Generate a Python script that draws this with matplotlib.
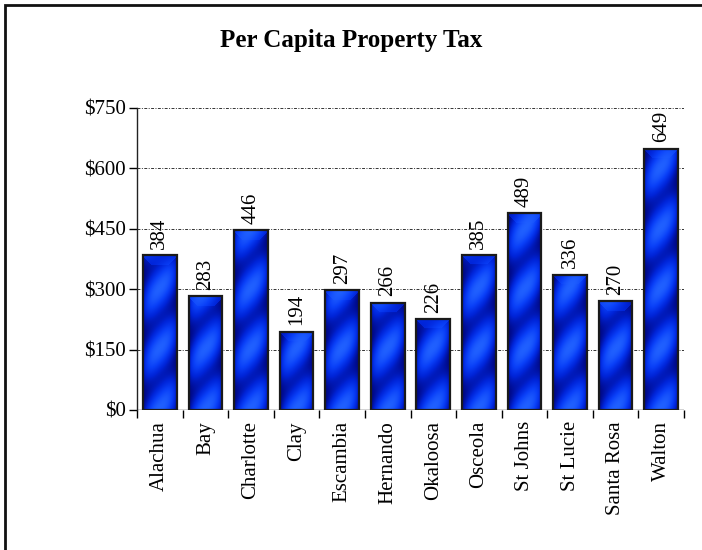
import numpy as np
import matplotlib
matplotlib.use("Agg")
import matplotlib.pyplot as plt
from matplotlib.patches import Rectangle
from matplotlib.colors import LinearSegmentedColormap
from matplotlib.ticker import FuncFormatter, FixedLocator

counties = ["Alachua", "Bay", "Charlotte", "Clay", "Escambia", "Hernando",
            "Okaloosa", "Osceola", "St Johns", "St Lucie", "Santa Rosa", "Walton"]
tax = [384, 283, 446, 194, 297, 266, 226, 385, 489, 336, 270, 649]
yticks = [0, 150, 300, 450, 600, 750]

plt.rcParams["font.family"] = ["Liberation Serif", "DejaVu Serif"]

W, H, DPI = 702, 550, 100
fig = plt.figure(figsize=(W / DPI, H / DPI), dpi=DPI)
fig.patch.set_facecolor("white")

# frame around the chart area (runs off the right and bottom edges)
fig.add_artist(Rectangle((5 / W, -0.05), 1.2, 1 - 5 / H + 0.05,
                         transform=fig.transFigure, fill=False,
                         edgecolor="#111111", linewidth=2))

left, right, bottom, top = 137 / W, 684 / W, 1 - 410 / H, 1 - 108 / H
ax = fig.add_axes([left, bottom, right - left, top - bottom])

n = len(counties)

for s in ["top", "right", "bottom"]:
    ax.spines[s].set_visible(False)
ax.spines["left"].set_linewidth(1.0)
ax.spines["left"].set_color("#222222")
ax.axhline(0, color="#222222", linewidth=1.0, zorder=4)

ax.yaxis.set_major_locator(FixedLocator(yticks))
ax.yaxis.set_major_formatter(FuncFormatter(lambda v, p: f"${int(v)}"))
ax.tick_params(axis="y", direction="out", length=6, width=1, labelsize=15, pad=2)
for y in yticks[1:]:
    ax.axhline(y, color="#333333", linewidth=0.7, linestyle=(0, (3, 1.5, 1, 1.5)), zorder=1)

ax.set_xticks(np.arange(n))
ax.set_xticklabels(counties, rotation=90, fontsize=15, va="top")
ax.tick_params(axis="x", length=0, pad=8)
ax.set_xticks(np.arange(n + 1) - 0.5, minor=True)
ax.tick_params(axis="x", which="minor", direction="out", length=6, width=1)

cmap = LinearSegmentedColormap.from_list(
    "bluebar", ["#00044a", "#000c90", "#0024d8", "#0a40f8", "#2060ff"])

ax_w_px = (right - left) * W
ax_h_px = (top - bottom) * H
bw = 0.74
for i, v in enumerate(tax):
    wpx = int(round(bw * ax_w_px / n))
    hpx = max(int(round(v / 750 * ax_h_px)), 2)
    xx, yy = np.meshgrid(np.arange(wpx), np.arange(hpx))
    # diagonal sheen running from lower left to upper right
    stripe = 0.5 + 0.5 * np.sin(2 * np.pi * (xx - yy) / 60.0)
    fx = np.abs((xx + 0.5) / wpx - 0.5) * 2
    side = 1 - 0.6 * fx ** 2.5
    val = (0.4 + 0.6 * stripe) * side
    # lighter bevel along the top edge
    d_top = hpx - 1 - yy
    bevel = (d_top < 10) & (d_top < xx + 2) & (d_top < wpx - xx + 1)
    val = np.where(bevel, np.clip(0.55 + 0.45 * stripe, 0, 1) * (1 - 0.3 * fx ** 2), val)
    ax.imshow(val, cmap=cmap, vmin=0, vmax=1, origin="lower",
              extent=(i - bw / 2, i + bw / 2, 0, v), aspect="auto",
              interpolation="bilinear", zorder=2)
    ax.add_patch(Rectangle((i - bw / 2, 0), bw, v, fill=False,
                           edgecolor="#1a1a1a", linewidth=1.6, zorder=3))
    ax.text(i, v + 16, f"{v}", rotation=90, ha="center", va="bottom",
            fontsize=15, zorder=5)

ax.set_xlim(-0.5, n - 0.5)
ax.set_ylim(0, 750)

fig.text(351 / W, 1 - 40 / H, "Per Capita Property Tax", ha="center", va="center",
         fontsize=18, fontweight="bold")

fig.savefig("out.png", dpi=DPI)
